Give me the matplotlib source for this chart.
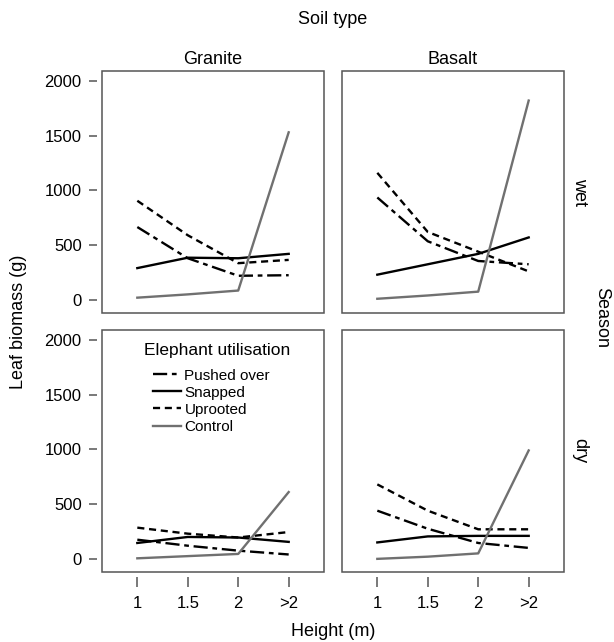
import numpy as np
import matplotlib.pyplot as plt
from matplotlib.patches import Rectangle

plt.rcParams['font.family'] = ['Liberation Sans', 'DejaVu Sans']

heights = ['1', '1.5', '2', '>2']
soils = ['Granite', 'Basalt']
seasons = ['wet', 'dry']
groups = ['Pushed over', 'Snapped', 'Uprooted', 'Control']

# leaf biomass (g), per (season, soil)
granite_wet = {
    'Pushed over': [665, 380, 220, 225],
    'Snapped': [290, 385, 380, 420],
    'Uprooted': [905, 590, 335, 365],
    'Control': [20, 50, 85, 1530],
}
basalt_wet = {
    'Pushed over': [935, 535, 355, 325],
    'Snapped': [230, 325, 420, 570],
    'Uprooted': [1160, 620, 440, 260],
    'Control': [10, 40, 75, 1820],
}
granite_dry = {
    'Pushed over': [175, 120, 75, 40],
    'Snapped': [145, 200, 195, 155],
    'Uprooted': [285, 230, 195, 245],
    'Control': [5, 25, 45, 610],
}
basalt_dry = {
    'Pushed over': [440, 275, 145, 100],
    'Snapped': [150, 205, 210, 210],
    'Uprooted': [680, 440, 270, 270],
    'Control': [0, 20, 50, 990],
}
data = {('wet', 'Granite'): granite_wet, ('wet', 'Basalt'): basalt_wet,
        ('dry', 'Granite'): granite_dry, ('dry', 'Basalt'): basalt_dry}

styles = {
    'Pushed over': dict(color='black', linestyle=(0, (6, 2, 2, 2))),
    'Snapped': dict(color='black', linestyle='-'),
    'Uprooted': dict(color='black', linestyle=(0, (3, 2))),
    'Control': dict(color='#707070', linestyle='-'),
}

fig = plt.figure(figsize=(6.14, 6.42), dpi=100)
W, H = 614, 642
lefts = [102, 342]
tops = [71, 330]
pw, ph = 222, 242
frame = '#555555'
x = np.arange(1, len(heights) + 1)

axes = {}
for i, season in enumerate(seasons):
    for j, soil in enumerate(soils):
        ax = fig.add_axes([lefts[j] / W, 1 - (tops[i] + ph) / H, pw / W, ph / H])
        axes[(season, soil)] = ax
        for g in groups:
            ax.plot(x, data[(season, soil)][g], lw=1.7, label=g, **styles[g])
        ax.set_xlim(0.3, 4.7)
        ax.set_ylim(-120, 2090)
        ax.set_xticks(x)
        ax.set_xticklabels(heights)
        ax.set_yticks([0, 500, 1000, 1500, 2000])
        # lattice-like frame with ticks set a little away from it
        for s in ax.spines.values():
            s.set_visible(False)
        ax.spines['left'].set_position(('outward', 3.6))
        ax.spines['bottom'].set_position(('outward', 3.6))
        ax.add_patch(Rectangle((0, 0), 1, 1, transform=ax.transAxes, fill=False,
                               edgecolor=frame, lw=1.1, clip_on=False))
        ax.tick_params(width=1.1, color=frame, labelsize=12, direction='out')
        ax.tick_params(axis='x', length=7, pad=7)
        ax.tick_params(axis='y', length=6, pad=5)
        if j != 0:
            ax.tick_params(axis='y', left=False, labelleft=False)
        if i != 1:
            ax.tick_params(axis='x', bottom=False, labelbottom=False)
        if i == 0:
            ax.set_title(soil, fontsize=13, pad=5)
        if j == 1:
            ax.text(1.07, 0.5, season, transform=ax.transAxes, rotation=-90,
                    ha='center', va='center', fontsize=13)

lax = axes[('dry', 'Granite')]
lax.text(0.52, 0.915, 'Elephant utilisation', transform=lax.transAxes,
         ha='center', va='center', fontsize=12.5)
lax.legend(loc='upper left', bbox_to_anchor=(0.23, 0.84), frameon=False,
           fontsize=11, handlelength=1.8, labelspacing=0.2,
           handletextpad=0.25, borderaxespad=0, borderpad=0)

fig.text(333 / W, 1 - 20 / H, 'Soil type', ha='center', va='center', fontsize=13)
fig.text(333 / W, 1 - 631 / H, 'Height (m)', ha='center', va='center', fontsize=13)
fig.text(19 / W, 1 - 322 / H, 'Leaf biomass (g)', ha='center', va='center',
         rotation=90, fontsize=13)
fig.text(602 / W, 1 - 318 / H, 'Season', ha='center', va='center',
         rotation=-90, fontsize=13)

fig.savefig('out.png', dpi=100)
